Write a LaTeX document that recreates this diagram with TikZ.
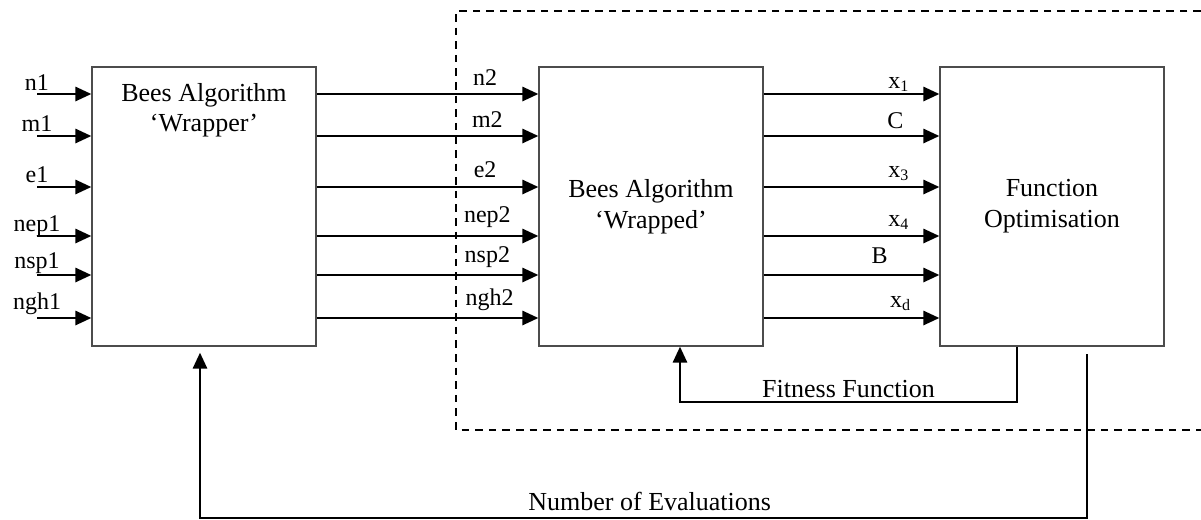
\documentclass[tikz,border=0pt]{standalone}
\usepackage{fontspec}
\setmainfont{Liberation Serif}
\usetikzlibrary{arrows.meta,positioning}

\begin{document}
\begin{tikzpicture}[x=0.5pt, y=-0.5pt,
	block/.style={draw=gray!60!black, line width=0.6pt, minimum width=112pt, minimum height=139.5pt, align=center, inner sep=0pt, font=\fontsize{13}{15.5}\selectfont},
	sig/.style={-{Triangle[length=8pt,width=7pt]}, line width=1.4pt},
	lbl/.style={font=\fontsize{12}{14}\selectfont, anchor=base, inner sep=0pt}]
	\useasboundingbox (0,0) rectangle (1201,520);

	% dashed frame round the inner loop
	\draw[line width=1.1pt, dash pattern=on 3.8pt off 3pt] (1201,11) -- (456,11) -- (456,430) -- (1201,430);

	\node[block] (wrapper) at (204,206.5) {};
	\node[align=center, font=\fontsize{13}{15}\selectfont, below=5pt of wrapper.north] (wrappertext) {Bees Algorithm\\`Wrapper'};
	\node[block] (wrapped) at (651,206.5) {Bees Algorithm\\`Wrapped'};
	\node[block] (optim) at (1052,206.5) {Function\\Optimisation};

	\coordinate (r1) at (37,94);
	\coordinate (r2) at (37,136);
	\coordinate (r3) at (37,187);
	\coordinate (r4) at (37,236);
	\coordinate (r5) at (37,275);
	\coordinate (r6) at (37,318);

	% inputs of the wrapper
	\draw[sig] (r1) node[lbl, yshift=2pt] {n1} -- (wrapper.west |- r1);
	\draw[sig] (r2) node[lbl, yshift=2.5pt] {m1} -- (wrapper.west |- r2);
	\draw[sig] (r3) node[lbl, yshift=2.5pt] {e1} -- (wrapper.west |- r3);
	\draw[sig] (r4) node[lbl, yshift=2.5pt] {nep1} -- (wrapper.west |- r4);
	\draw[sig] (r5) node[lbl, yshift=3.5pt] {nsp1} -- (wrapper.west |- r5);
	\draw[sig] (r6) node[lbl, yshift=4.5pt] {ngh1} -- (wrapper.west |- r6);

	% wrapper to wrapped
	\draw[sig] (wrapper.east |- r1) -- node[lbl, pos=.76, yshift=4.5pt] {n2} (wrapped.west |- r1);
	\draw[sig] (wrapper.east |- r2) -- node[lbl, pos=.77, yshift=4.5pt] {m2} (wrapped.west |- r2);
	\draw[sig] (wrapper.east |- r3) -- node[lbl, pos=.76, yshift=5pt] {e2} (wrapped.west |- r3);
	\draw[sig] (wrapper.east |- r4) -- node[lbl, pos=.77, yshift=7pt] {nep2} (wrapped.west |- r4);
	\draw[sig] (wrapper.east |- r5) -- node[lbl, pos=.77, yshift=6.5pt] {nsp2} (wrapped.west |- r5);
	\draw[sig] (wrapper.east |- r6) -- node[lbl, pos=.78, yshift=6.5pt] {ngh2} (wrapped.west |- r6);

	% wrapped to function
	\draw[sig] (wrapped.east |- r1) -- node[lbl, pos=.77, yshift=3pt] {x\textsubscript{1}} (optim.west |- r1);
	\draw[sig] (wrapped.east |- r2) -- node[lbl, pos=.75, yshift=4pt] {C} (optim.west |- r2);
	\draw[sig] (wrapped.east |- r3) -- node[lbl, pos=.77, yshift=5pt] {x\textsubscript{3}} (optim.west |- r3);
	\draw[sig] (wrapped.east |- r4) -- node[lbl, pos=.77, yshift=5pt] {x\textsubscript{4}} (optim.west |- r4);
	\draw[sig] (wrapped.east |- r5) -- node[lbl, pos=.66, yshift=6pt] {B} (optim.west |- r5);
	\draw[sig] (wrapped.east |- r6) -- node[lbl, pos=.78, yshift=5.5pt] {x\textsubscript{d}} (optim.west |- r6);

	% feedback loops
	\coordinate (fitR) at (1017,402);
	\coordinate (fitL) at (680,402);
	\draw[sig] (optim.south -| fitR) -- (fitR) -- node[above, inner sep=1.5pt, font=\fontsize{13}{15}\selectfont] (fitlabel) {Fitness Function} (fitL) -- (wrapped.south -| fitL);

	\coordinate (evalT) at (1087,354);
	\coordinate (evalB) at (1087,518);
	\coordinate (evalL) at (200,518);
	\draw[sig, shorten >=3pt] (evalT) -- (evalB) -- node[above, inner sep=3pt, pos=.493, font=\fontsize{13}{15}\selectfont] (evallabel) {Number of Evaluations} (evalL) -- (wrapper.south -| evalL);
\end{tikzpicture}
\end{document}
